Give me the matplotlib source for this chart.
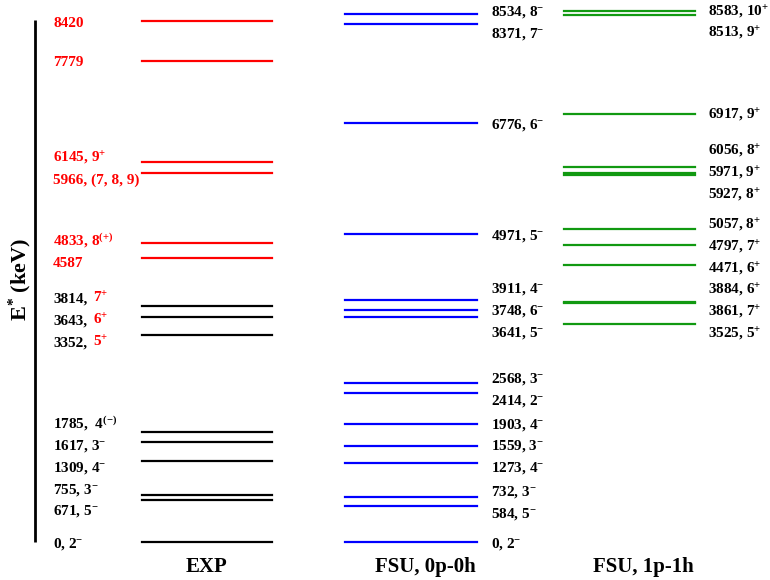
import matplotlib
matplotlib.use('Agg')
import matplotlib.pyplot as plt
import matplotlib.transforms as mtransforms

# Level energies (keV) and spin-parity labels
exp_energy = [0, 671, 755, 1309, 1617, 1785, 3352, 3643, 3814,
              4587, 4833, 5966, 6145, 7779, 8420]
exp_spin = [r'2$^{-}$', r'5$^{-}$', r'3$^{-}$', r'4$^{-}$', r'3$^{-}$',
            r' 4$^{(-)}$', r' 5$^{+}$', r' 6$^{+}$', r' 7$^{+}$',
            '', r'8$^{(+)}$', '(7, 8, 9)', r'9$^{+}$', '', '']

fsu0_energy = [0, 584, 732, 1273, 1559, 1903, 2414, 2568, 3641, 3748,
               3911, 4971, 6776, 8371, 8534]
fsu0_spin = ['2', '5', '3', '4', '3', '4', '2', '3', '5', '6',
             '4', '5', '6', '7', '8']

fsu1_energy = [3525, 3861, 3884, 4471, 4797, 5057, 5927, 5971, 6056,
               6917, 8513, 8583]
fsu1_spin = ['5', '7', '6', '6', '7', '8', '8', '9', '8', '9', '9', '10']

col_titles = ['EXP', 'FSU, 0p-0h', 'FSU, 1p-1h']

plt.rcParams['font.family'] = 'Liberation Serif'
plt.rcParams['font.weight'] = 'bold'
plt.rcParams['mathtext.fontset'] = 'custom'
plt.rcParams['mathtext.rm'] = 'Liberation Serif:bold'
plt.rcParams['mathtext.it'] = 'Liberation Serif:italic:bold'
plt.rcParams['mathtext.bf'] = 'Liberation Serif:bold'

RED = '#ff0000'
BLUE = '#0000ff'
GREEN = '#119911'
KEV_PER_PX = 16.16


def spread(values, gap, hi):
    # push label positions apart so they don't overlap
    pos = sorted(values)
    for it in range(500):
        for i in range(1, len(pos)):
            d = pos[i] - pos[i-1]
            if d < gap:
                s = (gap - d) / 2.0
                pos[i] += s
                pos[i-1] -= s
        pos = [min(p, hi) for p in pos]
    return pos


fig = plt.figure(figsize=(7.7, 5.8), dpi=100)
ax = fig.add_axes([0, 0, 1, 1])
ax.set_xlim(0, 770)
ax.set_ylim(-38 * KEV_PER_PX, 542 * KEV_PER_PX)
ax.axis('off')
renderer = fig.canvas.get_renderer()
base = mtransforms.offset_copy(ax.transData, fig, y=-4, units='points')

# energy axis
ax.plot([35, 35], [0, 8440], color='black', lw=2, solid_capstyle='butt')
ax.text(20, 4240, r'E$^{*}$ (keV)', rotation=90, ha='center', va='center',
        fontsize=16)

gap = 350
top = 8590

# EXP column
for e in exp_energy:
    ax.plot([142, 272], [e, e], color=RED if e > 4000 else 'black', lw=1.6)
exp_pos = spread(exp_energy, gap, top)
for e, s, y in zip(exp_energy, exp_spin, exp_pos):
    if e > 4000:
        txt = str(e) + (', ' + s if s else '')
        ax.text(53, y, txt, color=RED, fontsize=11, ha='left',
                va='baseline', transform=base)
    elif '+' in s:
        t1 = ax.text(53, y, str(e) + ',', color='black', fontsize=11,
                     ha='left', va='baseline', transform=base)
        bb = t1.get_window_extent(renderer)
        x_end = ax.transData.inverted().transform((bb.x1, bb.y0))[0]
        ax.text(x_end + 6, y, s.strip(), color=RED, fontsize=11,
                ha='left', va='baseline', transform=base)
    else:
        ax.text(53, y, str(e) + ', ' + s.strip() if '(' not in s
                else str(e) + ',  ' + s.strip(), color='black',
                fontsize=11, ha='left', va='baseline', transform=base)

# FSU 0p-0h column
for e in fsu0_energy:
    ax.plot([345, 477], [e, e], color=BLUE, lw=1.6)
fsu0_pos = spread(fsu0_energy, gap, top)
for e, s, y in zip(fsu0_energy, fsu0_spin, fsu0_pos):
    ax.text(491, y, '%d, %s$^{-}$' % (e, s), color='black', fontsize=11,
            ha='left', va='baseline', transform=base)

# FSU 1p-1h column
for e in fsu1_energy:
    ax.plot([564, 695], [e, e], color=GREEN, lw=1.6)
fsu1_pos = spread(fsu1_energy, gap, top)
for e, s, y in zip(fsu1_energy, fsu1_spin, fsu1_pos):
    ax.text(708, y, '%d, %s$^{+}$' % (e, s), color='black', fontsize=11,
            ha='left', va='baseline', transform=base)

for xc, title in zip([206, 425, 643], col_titles):
    ax.text(xc, -25 * KEV_PER_PX, title, ha='center', va='center',
            fontsize=15)

fig.savefig('out.png', dpi=100)
